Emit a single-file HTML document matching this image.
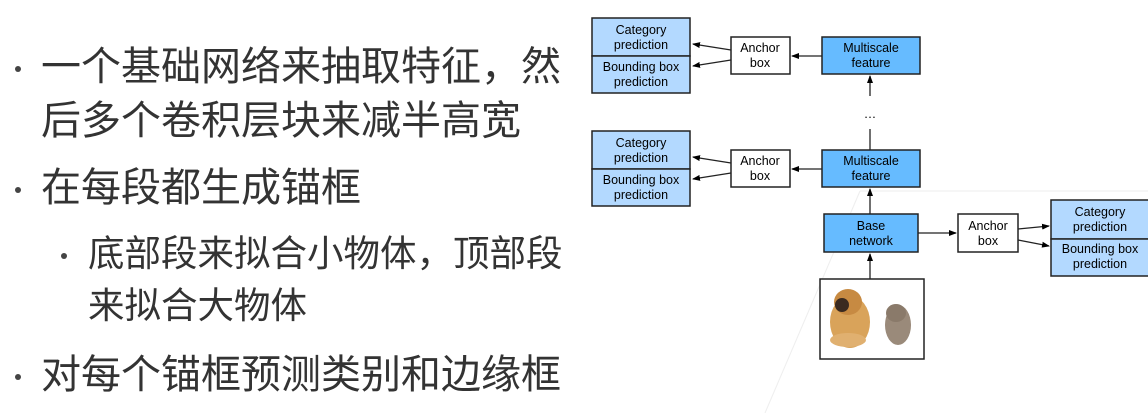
<!DOCTYPE html>
<html><head><meta charset="utf-8"><style>
body{margin:0;width:1148px;height:413px;background:#fff;position:relative;overflow:hidden;font-family:"Liberation Sans","Noto Sans CJK SC",sans-serif}
.t{position:absolute;color:#333;white-space:nowrap;font-family:"Liberation Sans","Noto Sans CJK SC",sans-serif}
.m{font-size:40px;line-height:40px}
.s{font-size:36.5px;line-height:38px}
.d{position:absolute;width:6px;height:6px;border-radius:3px;background:#444}
svg text{font-family:"Liberation Sans",sans-serif;font-size:12.5px;fill:#000}
</style></head><body>
<div class="d" style="left:15px;top:66px"></div>
<div class="d" style="left:15px;top:187px"></div>
<div class="d" style="left:61px;top:253px"></div>
<div class="d" style="left:15px;top:374px"></div>
<div class="t m" style="left:41px;top:47px">一个基础网络来抽取特征，然</div>
<div class="t m" style="left:41px;top:101px">后多个卷积层块来减半高宽</div>
<div class="t m" style="left:41px;top:168px">在每段都生成锚框</div>
<div class="t s" style="left:88px;top:235px">底部段来拟合小物体，顶部段</div>
<div class="t s" style="left:88px;top:287px">来拟合大物体</div>
<div class="t m" style="left:41px;top:355px">对每个锚框预测类别和边缘框</div>
<svg width="1148" height="413" style="position:absolute;left:0;top:0">
<defs><marker id="a" markerWidth="8" markerHeight="6" refX="7" refY="3" orient="auto" markerUnits="userSpaceOnUse"><path d="M0,0L8,3L0,6z" fill="#000"/></marker></defs>
<line x1="860" y1="191" x2="1148" y2="191" stroke="#eee"/>
<line x1="860" y1="191" x2="765" y2="413" stroke="#eee"/>
<g stroke="#222" stroke-width="1.5">
<rect x="592" y="18" width="98" height="38" fill="#b3d9ff"/>
<rect x="592" y="56" width="98" height="37" fill="#b3d9ff"/>
<rect x="731" y="37" width="59" height="37" fill="#fff"/>
<rect x="822" y="37" width="98" height="37" fill="#66bbff"/>
<rect x="592" y="131" width="98" height="38" fill="#b3d9ff"/>
<rect x="592" y="169" width="98" height="37" fill="#b3d9ff"/>
<rect x="731" y="150" width="59" height="37" fill="#fff"/>
<rect x="822" y="150" width="98" height="37" fill="#66bbff"/>
<rect x="824" y="214" width="94" height="38" fill="#66bbff"/>
<rect x="958" y="214" width="60" height="38" fill="#fff"/>
<rect x="1051" y="200" width="100" height="39" fill="#b3d9ff"/>
<rect x="1051" y="239" width="100" height="37" fill="#b3d9ff"/>
<rect x="820" y="279" width="104" height="80" fill="#fff"/>
</g>
<g stroke="#222" stroke-width="1.3" marker-end="url(#a)">
<line x1="822" y1="56" x2="792" y2="56"/>
<line x1="731" y1="50" x2="693" y2="44"/>
<line x1="731" y1="60" x2="693" y2="66"/>
<line x1="870" y1="96" x2="870" y2="76"/>
<line x1="822" y1="169" x2="792" y2="169"/>
<line x1="731" y1="163" x2="693" y2="157"/>
<line x1="731" y1="173" x2="693" y2="179"/>
<line x1="870" y1="214" x2="870" y2="189"/>
<line x1="870" y1="279" x2="870" y2="254"/>
<line x1="918" y1="233" x2="956" y2="233"/>
<line x1="1018" y1="229" x2="1049" y2="226"/>
<line x1="1018" y1="240" x2="1049" y2="246"/>
</g>
<line x1="870" y1="150" x2="870" y2="129" stroke="#222" stroke-width="1.3"/>
<text x="870" y="118" text-anchor="middle">…</text>
<g text-anchor="middle">
<text x="641" y="34">Category</text><text x="641" y="49">prediction</text>
<text x="641" y="71">Bounding box</text><text x="641" y="86">prediction</text>
<text x="760" y="52">Anchor</text><text x="760" y="67">box</text>
<text x="871" y="52">Multiscale</text><text x="871" y="67">feature</text>
<text x="641" y="147">Category</text><text x="641" y="162">prediction</text>
<text x="641" y="184">Bounding box</text><text x="641" y="199">prediction</text>
<text x="760" y="165">Anchor</text><text x="760" y="180">box</text>
<text x="871" y="165">Multiscale</text><text x="871" y="180">feature</text>
<text x="871" y="230">Base</text><text x="871" y="245">network</text>
<text x="988" y="230">Anchor</text><text x="988" y="245">box</text>
<text x="1100" y="216">Category</text><text x="1100" y="231">prediction</text>
<text x="1100" y="253">Bounding box</text><text x="1100" y="268">prediction</text>
</g>
<g>
<ellipse cx="850" cy="322" rx="20" ry="26" fill="#d9a35a"/>
<ellipse cx="848" cy="302" rx="14" ry="13" fill="#c78a42"/>
<ellipse cx="842" cy="305" rx="7" ry="7" fill="#3a2a20"/>
<ellipse cx="848" cy="340" rx="18" ry="7" fill="#e0b070"/>
<ellipse cx="898" cy="325" rx="13" ry="20" fill="#9a8a7a"/>
<ellipse cx="896" cy="313" rx="10" ry="9" fill="#8a7a6a"/>
</g>
</svg>
</body></html>
